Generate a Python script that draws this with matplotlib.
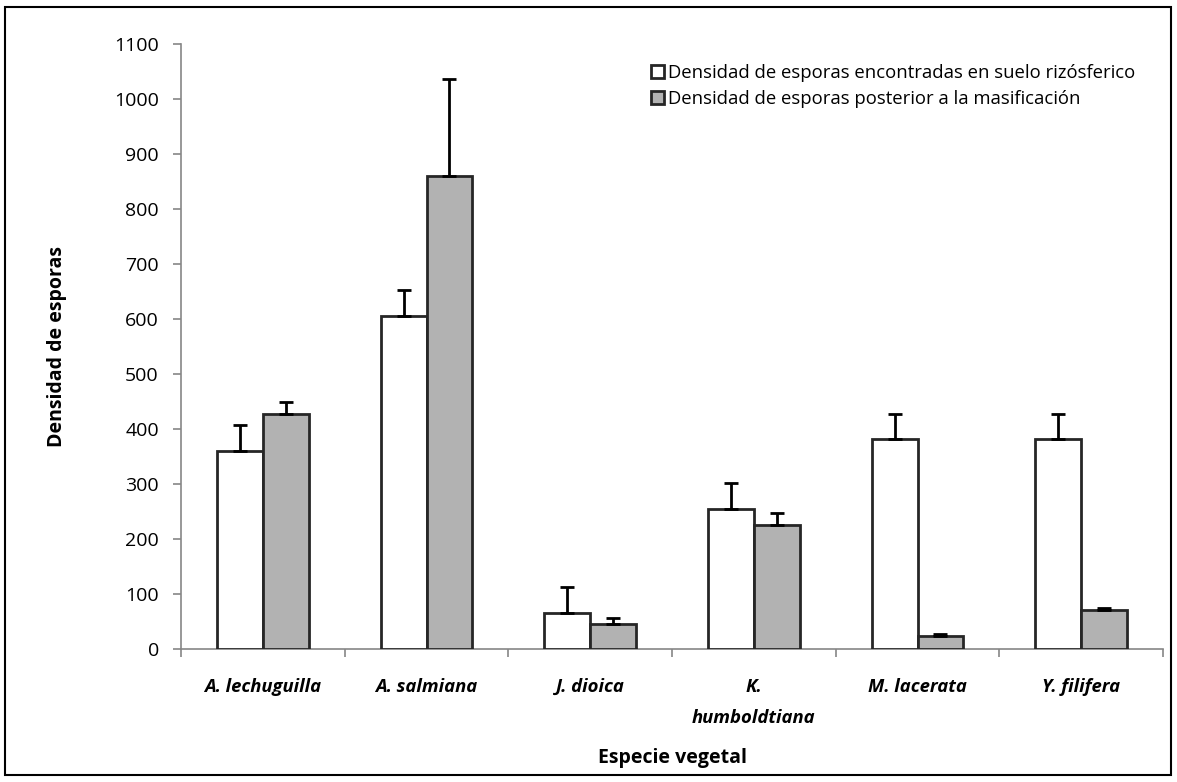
import matplotlib.pyplot as plt
import numpy as np

# Data
especies = ['A. lechuguilla', 'A. salmiana', 'J. dioica', 'K.\nhumboldtiana', 'M. lacerata', 'Y. filifera']
suelo = [360, 605, 65, 254, 381, 381]
suelo_err = [47, 47, 47, 47, 47, 47]
masif = [427, 860, 45, 226, 24, 71]
masif_err = [22, 176, 11, 22, 4, 3]
labels = ['Densidad de esporas encontradas en suelo rizósferico',
          'Densidad de esporas posterior a la masificación']

plt.rcParams['font.family'] = ['Open Sans', 'DejaVu Sans']

fig = plt.figure(figsize=(11.77, 7.82), dpi=100)
ax = fig.add_axes([0.1538, 0.1701, 0.8343, 0.7736])

x = np.arange(len(especies))
w = 0.28
edge = '#262626'
ax.bar(x - w / 2, suelo, width=w, color='white', edgecolor=edge, linewidth=2, label=labels[0], zorder=3)
ax.bar(x + w / 2, masif, width=w, color='#b2b2b2', edgecolor=edge, linewidth=2, label=labels[1], zorder=3)
ax.errorbar(x - w / 2, suelo, yerr=[np.zeros(len(suelo)), suelo_err], fmt='none',
            ecolor='black', elinewidth=2, capsize=5, capthick=2, zorder=4)
ax.errorbar(x + w / 2, masif, yerr=[np.zeros(len(masif)), masif_err], fmt='none',
            ecolor='black', elinewidth=2, capsize=5, capthick=2, zorder=4)

ax.set_xlim(-0.5, len(especies) - 0.5)
ax.set_ylim(0, 1100)
ax.set_yticks(range(0, 1101, 100))
ax.set_xticks(x)
ax.set_xticklabels(especies, fontsize=13.3, fontweight='bold', fontstyle='italic', linespacing=1.9)
ax.set_xticks(np.arange(-0.5, len(especies)), minor=True)
ax.tick_params(axis='x', which='major', length=0, pad=21)
ax.tick_params(axis='x', which='minor', length=6, color='#868686', width=1.2)
ax.tick_params(axis='y', labelsize=14, length=6, color='#868686', width=1.2, pad=10)

for s in ['top', 'right']:
    ax.spines[s].set_visible(False)
for s in ['left', 'bottom']:
    ax.spines[s].set_color('#868686')
    ax.spines[s].set_linewidth(1.2)

ax.set_ylabel('Densidad de esporas', fontsize=14, fontweight='bold', labelpad=34)
ax.set_xlabel('Especie vegetal', fontsize=14, fontweight='bold', labelpad=15)

ax.legend(loc='upper left', bbox_to_anchor=(0.462, 0.995), frameon=False, fontsize=13.3,
          handlelength=0.7, handleheight=0.7, handletextpad=0.2, labelspacing=0.45)

# border around the whole figure
fig.patches.append(plt.Rectangle((0.004, 0.009), 0.991, 0.982, transform=fig.transFigure,
                                 fill=False, edgecolor='black', linewidth=1.5))

fig.savefig('out.png', dpi=100)
